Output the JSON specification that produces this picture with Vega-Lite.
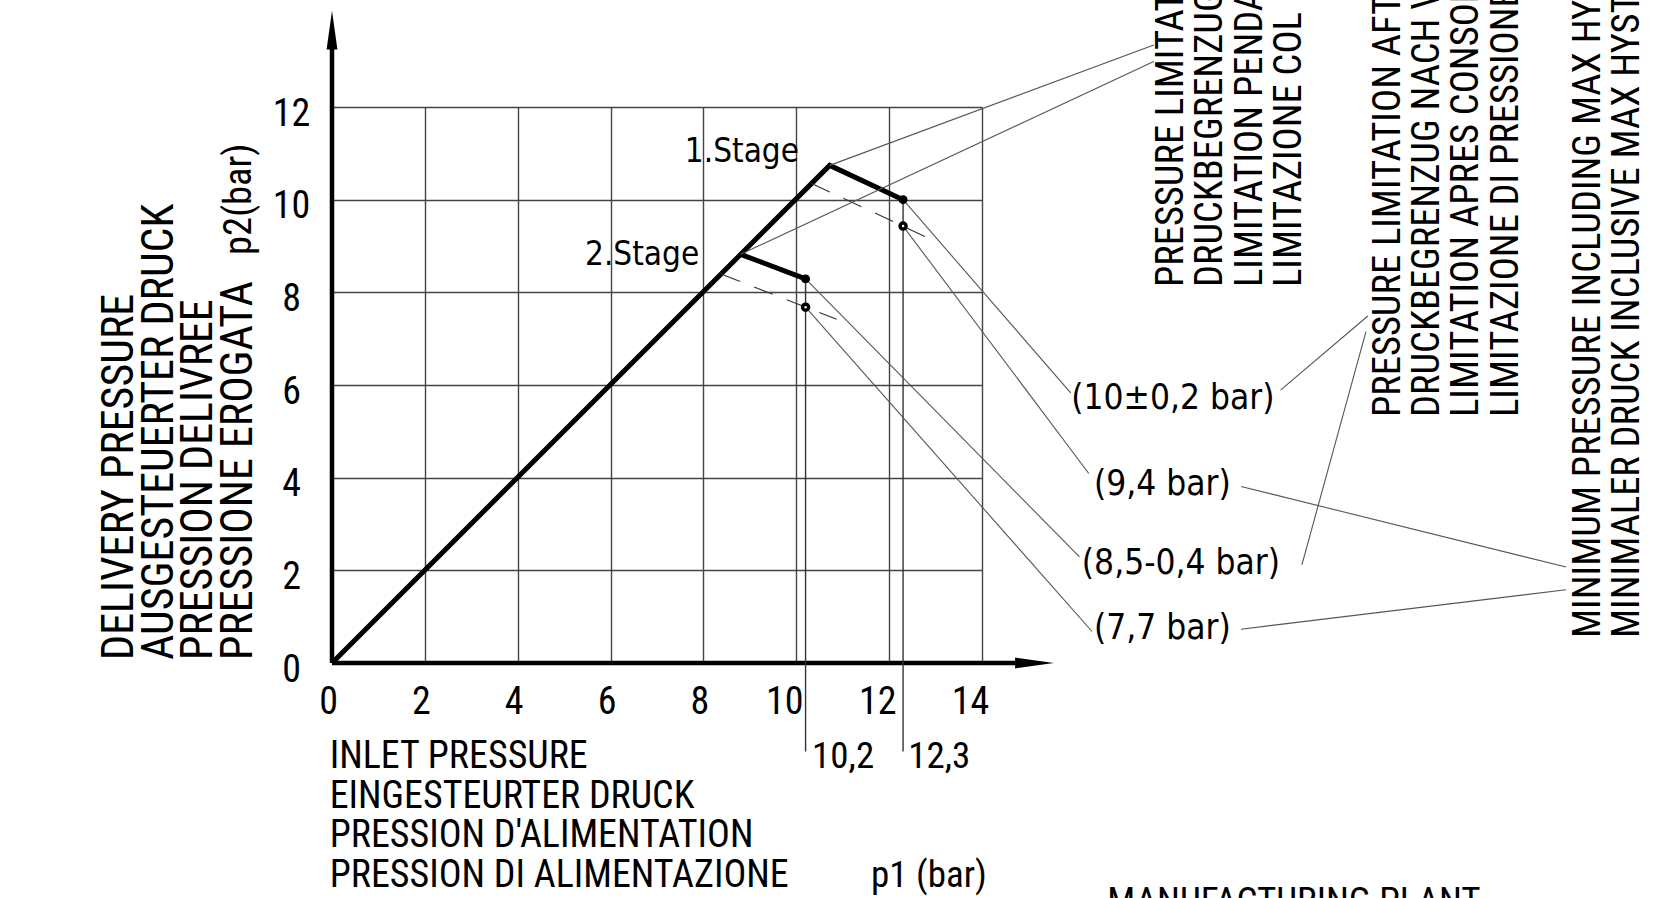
{
  "$schema": "https://vega.github.io/schema/vega-lite/v6.json",
  "autosize": {"type": "none"},
  "width": 650,
  "height": 556,
  "padding": {"left": 332, "top": 107, "right": 672, "bottom": 235},
  "background": "white",
  "config": {"view": {"stroke": null}},
  "datasets": {
    "segs": [
      {"kind": "axis", "x": 0, "y": 0, "x2": 0, "y2": 13.4},
      {"kind": "axis", "x": 0, "y": 0, "x2": 14.8, "y2": 0},
      {"kind": "ref", "x": 10.2, "y": 8.29, "x2": 10.2, "y2": -1.91},
      {"kind": "ref", "x": 12.3, "y": 10.0, "x2": 12.3, "y2": -1.91},
      {"kind": "dash", "x": 10.33, "y": 10.35, "x2": 12.87, "y2": 9.16},
      {"kind": "dash", "x": 8.39, "y": 8.39, "x2": 10.87, "y2": 7.42},
      {"kind": "lead", "x": 10.72, "y": 10.74, "x2": 17.7, "y2": 13.34},
      {"kind": "lead", "x": 8.8, "y": 8.82, "x2": 17.7, "y2": 12.98},
      {"kind": "lead", "x": 12.3, "y": 10.0, "x2": 15.91, "y2": 5.83},
      {"kind": "lead", "x": 12.3, "y": 9.43, "x2": 16.3, "y2": 4.09},
      {"kind": "lead", "x": 10.2, "y": 8.29, "x2": 16.1, "y2": 2.29},
      {"kind": "lead", "x": 10.2, "y": 7.68, "x2": 16.37, "y2": 0.68},
      {"kind": "lead", "x": 20.43, "y": 5.89, "x2": 22.31, "y2": 7.49},
      {"kind": "lead", "x": 22.27, "y": 7.15, "x2": 20.89, "y2": 2.12},
      {"kind": "lead", "x": 19.58, "y": 3.81, "x2": 26.58, "y2": 2.07},
      {"kind": "lead", "x": 19.58, "y": 0.73, "x2": 26.58, "y2": 1.58}
    ],
    "curve": [
      {"series": "1.Stage", "order": 1, "p1": 0, "p2": 0},
      {"series": "1.Stage", "order": 2, "p1": 10.72, "p2": 10.74},
      {"series": "1.Stage", "order": 3, "p1": 12.3, "p2": 10.0},
      {"series": "2.Stage", "order": 1, "p1": 8.8, "p2": 8.82},
      {"series": "2.Stage", "order": 2, "p1": 10.2, "p2": 8.29}
    ],
    "dots": [
      {"kind": "solid", "p1": 12.3, "p2": 10.0},
      {"kind": "solid", "p1": 10.2, "p2": 8.29},
      {"kind": "ring", "p1": 12.3, "p2": 9.43},
      {"kind": "ring", "p1": 10.2, "p2": 7.68}
    ],
    "arrows": [
      {"dir": "up", "p1": 0, "p2": 13.66},
      {"dir": "right", "p1": 15.13, "p2": 0}
    ],
    "notes": [
      {"group": "ytitle", "p1": -4.286, "p2": 0.065, "text": "DELIVERY PRESSURE\nAUSGESTEUERTER DRUCK\nPRESSION DELIVREE\nPRESSIONE EROGATA"},
      {"group": "rot", "p1": -1.745, "p2": 8.806, "text": "p2(bar)"},
      {"group": "rot", "p1": 18.33, "p2": 8.115, "text": "PRESSURE LIMITATION\nDRUCKBEGRENZUG BEI\nLIMITATION PENDANT\nLIMITAZIONE COL"},
      {"group": "rot", "p1": 23.0, "p2": 5.31, "text": "PRESSURE LIMITATION AFTER\nDRUCKBEGRENZUG NACH VERBRAUCH\nLIMITATION APRES CONSOMMATION\nLIMITAZIONE DI PRESSIONE"},
      {"group": "rot", "p1": 27.31, "p2": 0.54, "text": "MINIMUM PRESSURE INCLUDING MAX HYSTERESIS\nMINIMALER DRUCK INCLUSIVE MAX HYSTERESE"},
      {"group": "cad", "p1": -0.05, "p2": -2.266, "text": "INLET PRESSURE\nEINGESTEURTER DRUCK\nPRESSION D'ALIMENTATION\nPRESSION DI ALIMENTAZIONE"},
      {"group": "cad2", "p1": 11.61, "p2": -4.835, "text": "p1 (bar)"},
      {"group": "cad2", "p1": 10.34, "p2": -2.266, "text": "10,2"},
      {"group": "cad2", "p1": 12.41, "p2": -2.266, "text": "12,3"},
      {"group": "cad2", "p1": 16.7, "p2": -5.4, "text": "MANUFACTURING PLANT"},
      {"group": "stage", "p1": 7.6, "p2": 10.81, "text": "1.Stage"},
      {"group": "stage", "p1": 5.45, "p2": 8.59, "text": "2.Stage"},
      {"group": "val", "p1": 15.92, "p2": 5.49, "text": "(10±0,2 bar)"},
      {"group": "val", "p1": 16.41, "p2": 3.63, "text": "(9,4 bar)"},
      {"group": "val", "p1": 16.15, "p2": 1.92, "text": "(8,5-0,4 bar)"},
      {"group": "val", "p1": 16.41, "p2": 0.52, "text": "(7,7 bar)"}
    ]
  },
  "layer": [
    {
      "data": {"name": "curve"},
      "mark": {"type": "line", "color": "black", "strokeWidth": 5, "strokeJoin": "miter"},
      "encoding": {
        "x": {"field": "p1", "type": "quantitative", "scale": {"domain": [0, 14], "nice": false, "zero": false},
          "axis": {"values": [0, 2, 4, 6, 8, 10, 12, 14], "title": null, "domain": false, "ticks": false, "tickSize": 0,
            "grid": true, "gridColor": "#444", "gridWidth": 1.4,
            "labelFont": "Roboto Condensed, DejaVu Sans Condensed, sans-serif", "labelFontSize": 38, "labelColor": "black",
            "labelPadding": 39, "labelBaseline": "middle", "labelAlign": "center", "labelFlush": false, "labelOverlap": false,
            "labelOffset": {"condition": {"test": "datum.value >= 10", "value": -12}, "value": -4}}},
        "y": {"field": "p2", "type": "quantitative", "scale": {"domain": [0, 12], "nice": false, "zero": false},
          "axis": {"values": [0, 2, 4, 6, 8, 10, 12], "title": null, "domain": false, "ticks": false, "tickSize": 0,
            "grid": true, "gridColor": "#444", "gridWidth": 1.4,
            "labelFont": "Roboto Condensed, DejaVu Sans Condensed, sans-serif", "labelFontSize": 38, "labelColor": "black",
            "labelPadding": 41, "labelBaseline": "middle", "labelAlign": "center", "labelFlush": false, "labelOverlap": false,
            "labelOffset": 7}},
        "detail": {"field": "series"},
        "order": {"field": "order", "type": "quantitative"}
      }
    },
    {
      "data": {"name": "segs"},
      "transform": [{"filter": "datum.kind == 'axis'"}],
      "mark": {"type": "rule", "color": "black", "strokeWidth": 4.5},
      "encoding": {"x": {"field": "x", "type": "quantitative"}, "y": {"field": "y", "type": "quantitative"},
        "x2": {"field": "x2"}, "y2": {"field": "y2"}}
    },
    {
      "data": {"name": "segs"},
      "transform": [{"filter": "datum.kind == 'ref'"}],
      "mark": {"type": "rule", "color": "#333", "strokeWidth": 1.4},
      "encoding": {"x": {"field": "x", "type": "quantitative"}, "y": {"field": "y", "type": "quantitative"},
        "x2": {"field": "x2"}, "y2": {"field": "y2"}}
    },
    {
      "data": {"name": "segs"},
      "transform": [{"filter": "datum.kind == 'dash'"}],
      "mark": {"type": "rule", "color": "#333", "strokeWidth": 1.1, "strokeDash": [20, 15]},
      "encoding": {"x": {"field": "x", "type": "quantitative"}, "y": {"field": "y", "type": "quantitative"},
        "x2": {"field": "x2"}, "y2": {"field": "y2"}}
    },
    {
      "data": {"name": "segs"},
      "transform": [{"filter": "datum.kind == 'lead'"}],
      "mark": {"type": "rule", "color": "#555", "strokeWidth": 1.1},
      "encoding": {"x": {"field": "x", "type": "quantitative"}, "y": {"field": "y", "type": "quantitative"},
        "x2": {"field": "x2"}, "y2": {"field": "y2"}}
    },
    {
      "data": {"name": "dots"},
      "transform": [{"filter": "datum.kind == 'solid'"}],
      "mark": {"type": "point", "shape": "circle", "filled": true, "color": "black", "size": 80, "opacity": 1},
      "encoding": {"x": {"field": "p1", "type": "quantitative"}, "y": {"field": "p2", "type": "quantitative"}}
    },
    {
      "data": {"name": "dots"},
      "transform": [{"filter": "datum.kind == 'ring'"}],
      "mark": {"type": "point", "shape": "circle", "filled": false, "fill": "white", "fillOpacity": 1, "stroke": "black", "strokeWidth": 3.5, "size": 36, "opacity": 1},
      "encoding": {"x": {"field": "p1", "type": "quantitative"}, "y": {"field": "p2", "type": "quantitative"}}
    },
    {
      "data": {"name": "arrows"},
      "mark": {"type": "point", "filled": true, "color": "black", "size": 1500, "opacity": 1},
      "encoding": {"x": {"field": "p1", "type": "quantitative"}, "y": {"field": "p2", "type": "quantitative"},
        "shape": {"field": "dir", "type": "nominal", "legend": null,
          "scale": {"domain": ["up", "right"], "range": ["M0,-1L0.28,1L-0.28,1Z", "M1,0L-1,0.28L-1,-0.28Z"]}}}
    },
    {
      "data": {"name": "notes"},
      "transform": [{"filter": "datum.group == 'ytitle'"}],
      "mark": {"type": "text", "angle": 270, "align": "left", "baseline": "alphabetic", "lineBreak": "\n", "lineHeight": 39.5,
        "font": "Roboto Condensed, DejaVu Sans Condensed, sans-serif", "fontSize": 44, "color": "black"},
      "encoding": {"x": {"field": "p1", "type": "quantitative"}, "y": {"field": "p2", "type": "quantitative"}, "text": {"field": "text"}}
    },
    {
      "data": {"name": "notes"},
      "transform": [{"filter": "datum.group == 'rot'"}],
      "mark": {"type": "text", "angle": 270, "align": "left", "baseline": "alphabetic", "lineBreak": "\n", "lineHeight": 39.3,
        "font": "Roboto Condensed, DejaVu Sans Condensed, sans-serif", "fontSize": 38.5, "color": "black"},
      "encoding": {"x": {"field": "p1", "type": "quantitative"}, "y": {"field": "p2", "type": "quantitative"}, "text": {"field": "text"}}
    },
    {
      "data": {"name": "notes"},
      "transform": [{"filter": "datum.group == 'cad'"}],
      "mark": {"type": "text", "align": "left", "baseline": "alphabetic", "lineBreak": "\n", "lineHeight": 39.7,
        "font": "Roboto Condensed, DejaVu Sans Condensed, sans-serif", "fontSize": 38, "color": "black"},
      "encoding": {"x": {"field": "p1", "type": "quantitative"}, "y": {"field": "p2", "type": "quantitative"}, "text": {"field": "text"}}
    },
    {
      "data": {"name": "notes"},
      "transform": [{"filter": "datum.group == 'cad2'"}],
      "mark": {"type": "text", "align": "left", "baseline": "alphabetic",
        "font": "Roboto Condensed, DejaVu Sans Condensed, sans-serif", "fontSize": 37, "color": "black"},
      "encoding": {"x": {"field": "p1", "type": "quantitative"}, "y": {"field": "p2", "type": "quantitative"}, "text": {"field": "text"}}
    },
    {
      "data": {"name": "notes"},
      "transform": [{"filter": "datum.group == 'stage'"}],
      "mark": {"type": "text", "align": "left", "baseline": "alphabetic",
        "font": "DejaVu Sans Condensed, sans-serif", "fontSize": 33, "color": "black"},
      "encoding": {"x": {"field": "p1", "type": "quantitative"}, "y": {"field": "p2", "type": "quantitative"}, "text": {"field": "text"}}
    },
    {
      "data": {"name": "notes"},
      "transform": [{"filter": "datum.group == 'val'"}],
      "mark": {"type": "text", "align": "left", "baseline": "alphabetic",
        "font": "DejaVu Sans Condensed, sans-serif", "fontSize": 35, "color": "black"},
      "encoding": {"x": {"field": "p1", "type": "quantitative"}, "y": {"field": "p2", "type": "quantitative"}, "text": {"field": "text"}}
    }
  ]
}
